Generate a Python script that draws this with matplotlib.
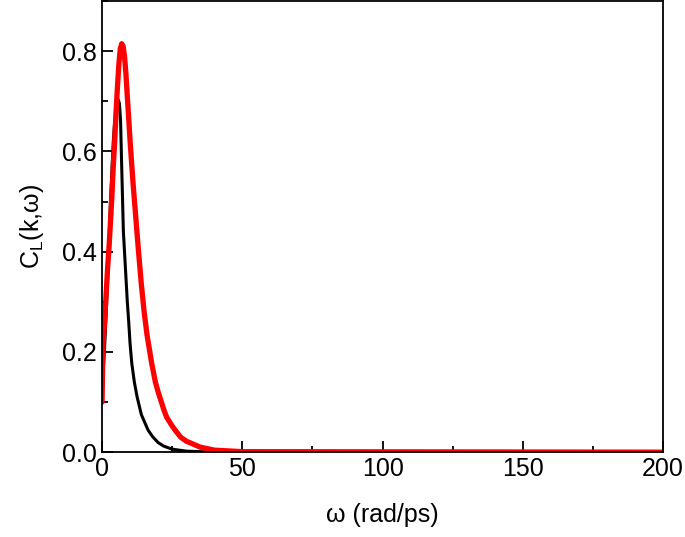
import matplotlib
matplotlib.use('Agg')
import matplotlib.pyplot as plt
from matplotlib.ticker import MultipleLocator

# black curve
omega_k = [0, 0.5, 1, 1.5, 2, 2.5, 3, 3.5, 4, 4.5, 5, 5.5, 5.8, 6.2, 6.6, 7, 7.6, 8, 8.5, 9, 9.5, 10,
           10.6, 11.5, 12.5, 14, 16.4, 18, 20, 22, 25, 30, 40, 200]
cl_k = [0.13, 0.17, 0.22, 0.28, 0.35, 0.42, 0.50, 0.56, 0.62, 0.66, 0.685, 0.70, 0.703, 0.695, 0.66, 0.57,
        0.44, 0.40, 0.35, 0.30, 0.26, 0.215, 0.177, 0.14, 0.11, 0.075, 0.044, 0.031, 0.019, 0.012,
        0.006, 0.002, 0.0, 0.0]

# red curve
omega_r = [0, 0.3, 1, 1.5, 2, 2.5, 3, 3.5, 4, 4.5, 5, 5.5, 6, 6.5, 7, 7.5, 8, 8.5, 9, 9.5, 10, 11, 12,
           13, 14, 15, 16, 17.7, 19, 20, 22, 23, 25, 26.6, 28, 30, 35, 40, 50, 200]
cl_r = [0.10, 0.21, 0.27, 0.32, 0.37, 0.41, 0.46, 0.51, 0.57, 0.62, 0.68, 0.73, 0.775, 0.805, 0.815,
        0.81, 0.79, 0.755, 0.71, 0.665, 0.62, 0.54, 0.47, 0.40, 0.335, 0.28, 0.235, 0.177, 0.14, 0.12,
        0.085, 0.07, 0.052, 0.04, 0.03, 0.022, 0.01, 0.004, 0.001, 0.0]

plt.rcParams['font.family'] = ['Liberation Sans', 'DejaVu Sans']
plt.rcParams['mathtext.fontset'] = 'custom'
plt.rcParams['mathtext.rm'] = 'Liberation Sans'

fig = plt.figure(figsize=(6.85, 5.37), dpi=100)
ax = fig.add_axes([0.149, 0.158, 0.819, 0.84])

ax.plot(omega_k, cl_k, color='black', linewidth=2.2)
ax.plot(omega_r, cl_r, color='red', linewidth=3.8, solid_capstyle='round', solid_joinstyle='round')

ax.set_xlim(0, 200)
ax.set_ylim(0, 0.9)
ax.xaxis.set_major_locator(MultipleLocator(50))
ax.xaxis.set_minor_locator(MultipleLocator(25))
ax.yaxis.set_major_locator(MultipleLocator(0.2))
ax.yaxis.set_minor_locator(MultipleLocator(0.1))
ax.yaxis.set_major_formatter(plt.FormatStrFormatter('%.1f'))

ax.tick_params(which='both', direction='in', labelsize=18, width=1.3)
ax.tick_params(which='major', length=8)
ax.tick_params(which='minor', length=4)
for s in ax.spines.values():
    s.set_linewidth(1.3)

ax.set_xlabel('ω (rad/ps)', fontsize=18, labelpad=16)
ax.set_ylabel(r'C$_\mathrm{L}$(k,ω)', fontsize=18, labelpad=12)

fig.savefig('out.png', dpi=100)
